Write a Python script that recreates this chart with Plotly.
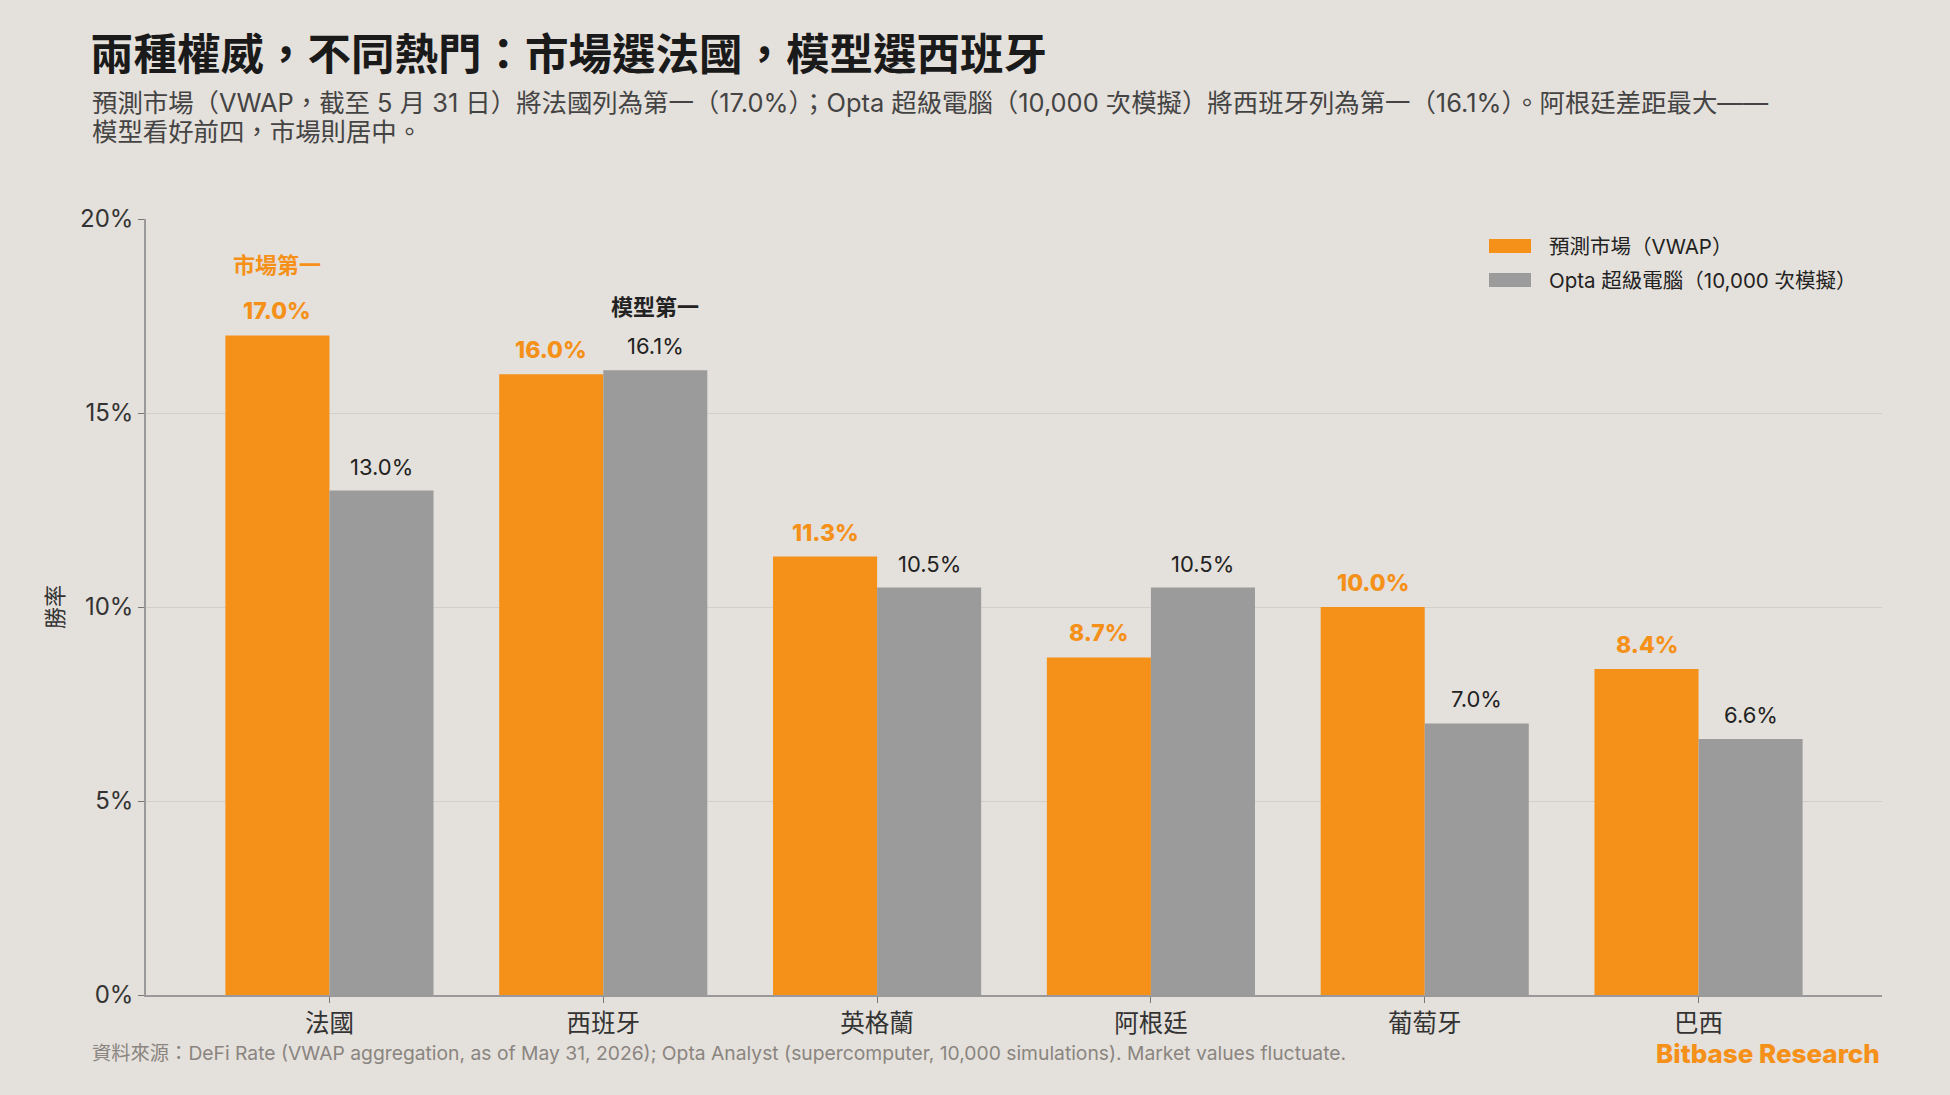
import plotly.graph_objects as go

categories = ["法國", "西班牙", "英格蘭", "阿根廷", "葡萄牙", "巴西"]
market_vals = [17.0, 16.0, 11.3, 8.7, 10.0, 8.4]
model_vals = [13.0, 16.1, 10.5, 10.5, 7.0, 6.6]
market_name = "預測市場（VWAP）"
model_name = "Opta 超級電腦（10,000 次模擬）"
y_ticks = [0, 5, 10, 15, 20]

BG = "#E4E0DB"
ORANGE = "#F59019"
GRAY = "#9B9B9B"
DARK = "#333333"
FONT = "Inter, 'Noto Sans CJK TC', 'Noto Sans', sans-serif"
CJK = "'Noto Sans CJK TC', sans-serif"

W, H = 1950, 1095
L, R, T, B = 146, 68, 219, 100
PW, PH = W - L - R, H - T - B
XR = [-0.67, 5.67]
BARGAP = 0.24
cat_px = PW / (XR[1] - XR[0])
bar_px = cat_px * (1 - BARGAP) / 2

def px_x(px):
    return (px - L) / PW

def px_y(py):
    return (H - B - py) / PH

fig = go.Figure()
fig.add_trace(go.Bar(x=categories, y=market_vals, name=market_name,
                     marker=dict(color=ORANGE, line=dict(width=0)), showlegend=False))
fig.add_trace(go.Bar(x=categories, y=model_vals, name=model_name,
                     marker=dict(color=GRAY, line=dict(width=0)), showlegend=False))

ann = []
for c, v in zip(categories, market_vals):
    ann.append(dict(x=c, y=v, xref="x", yref="y", text=f"{v:.1f}%", showarrow=False,
                    xshift=-bar_px / 2, yshift=24, yanchor="middle",
                    font=dict(family=FONT, size=23, color=ORANGE, weight=800)))
for c, v in zip(categories, model_vals):
    ann.append(dict(x=c, y=v, xref="x", yref="y", text=f"{v:.1f}%", showarrow=False,
                    xshift=bar_px / 2, yshift=24, yanchor="middle",
                    font=dict(family=FONT, size=22, color="#222222")))

# leaders
mi = market_vals.index(max(market_vals))
oi = model_vals.index(max(model_vals))
ann.append(dict(x=categories[mi], y=market_vals[mi], xref="x", yref="y", text="<b>市場第一</b>",
                showarrow=False, xshift=-bar_px / 2, yshift=70, yanchor="middle",
                font=dict(family=FONT, size=22, color=ORANGE)))
ann.append(dict(x=categories[oi], y=model_vals[oi], xref="x", yref="y", text="<b>模型第一</b>",
                showarrow=False, xshift=bar_px / 2, yshift=63, yanchor="middle",
                font=dict(family=FONT, size=22, color="#222222")))

# subtitle
ann.append(dict(x=px_x(90), y=px_y(102), xref="paper", yref="paper", xanchor="left", yanchor="middle",
                text="預測市場（VWAP，截至 5 月 31 日）將法國列為第一（17.0%）；Opta 超級電腦（10,000 次模擬）將西班牙列為第一（16.1%）。阿根廷差距最大——",
                showarrow=False, font=dict(family=FONT, size=25.4, color="#444444")))
ann.append(dict(x=px_x(90), y=px_y(132), xref="paper", yref="paper", xanchor="left", yanchor="middle",
                text="模型看好前四，市場則居中。",
                showarrow=False, font=dict(family=FONT, size=25.4, color="#444444")))

# legend (manual)
shapes = []
for i, (name, col) in enumerate([(market_name, ORANGE), (model_name, GRAY)]):
    cy = 246 + i * 34
    shapes.append(dict(type="rect", xref="paper", yref="paper", x0=px_x(1489), x1=px_x(1531),
                       y0=px_y(cy - 7), y1=px_y(cy + 7), fillcolor=col, line=dict(width=0)))
    ann.append(dict(x=px_x(1547), y=px_y(cy), xref="paper", yref="paper", xanchor="left",
                    yanchor="middle", text=name, showarrow=False,
                    font=dict(family=FONT, size=20.5, color="#222222")))

# footer
ann.append(dict(x=px_x(90), y=px_y(1053), xref="paper", yref="paper", xanchor="left", yanchor="middle",
                text="資料來源：DeFi Rate (VWAP aggregation, as of May 31, 2026); Opta Analyst (supercomputer, 10,000 simulations). Market values fluctuate.",
                showarrow=False, font=dict(family=FONT, size=19.3, color="#8A8580")))
ann.append(dict(x=px_x(1882), y=px_y(1053), xref="paper", yref="paper", xanchor="right", yanchor="middle",
                text="Bitbase Research", showarrow=False,
                font=dict(family=FONT, size=26, color=ORANGE, weight=800)))

fig.update_layout(
    width=W, height=H,
    margin=dict(l=L, r=R, t=T, b=B, pad=0),
    paper_bgcolor=BG, plot_bgcolor=BG,
    barmode="group", bargap=BARGAP, bargroupgap=0,
    title=dict(text="<b>兩種權威，不同熱門：市場選法國，模型選西班牙</b>",
               xref="container", yref="container", x=90 / W, xanchor="left",
               y=1 - 55 / H, yanchor="middle",
               font=dict(family=CJK, size=43.5, color="#1A1A1A")),
    font=dict(family=FONT, color=DARK),
    annotations=ann, shapes=shapes,
    showlegend=False,
)
fig.update_xaxes(range=XR, showline=True, linecolor="#999999", linewidth=1.5,
                 ticks="outside", ticklen=6, tickcolor="#777777", tickwidth=1,
                 tickfont=dict(family=FONT, size=24.5, color=DARK), showgrid=False)
fig.update_yaxes(range=[0, 20], tickvals=y_ticks, ticktext=[f"{t}%" for t in y_ticks],
                 showline=True, linecolor="#999999", linewidth=1.5,
                 ticks="outside", ticklen=6, tickcolor="#777777",
                 tickfont=dict(family=FONT, size=24, color=DARK),
                 showgrid=True, gridcolor="#D2CEC8", gridwidth=1, zeroline=False,
                 title=dict(text="勝率", font=dict(family=FONT, size=22, color=DARK), standoff=10))

fig.write_html("out.html")
